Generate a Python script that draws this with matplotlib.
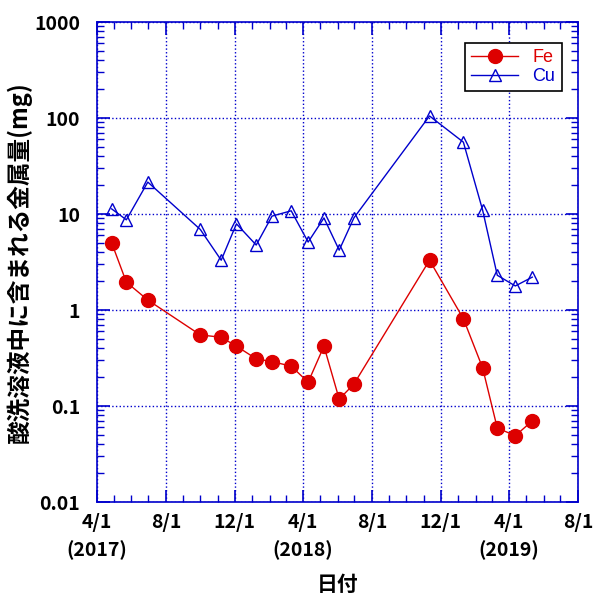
import numpy as np
import matplotlib
matplotlib.use("Agg")
import matplotlib.pyplot as plt
import matplotlib.dates as mdates
from matplotlib.ticker import LogLocator, FixedLocator, NullFormatter

plt.rcParams['font.family'] = ['Noto Sans CJK JP', 'DejaVu Sans']

# sampling dates and metal amounts (mg)
dates = ['2017-04-27', '2017-05-23', '2017-06-30', '2017-10-01', '2017-11-07',
         '2017-12-04', '2018-01-08', '2018-02-05', '2018-03-11', '2018-04-10',
         '2018-05-08', '2018-06-04', '2018-06-30', '2018-11-11', '2019-01-10',
         '2019-02-13', '2019-03-11', '2019-04-12', '2019-05-12']
fe = [5.0, 1.95, 1.27, 0.55, 0.52, 0.42, 0.31, 0.29, 0.26, 0.177,
      0.42, 0.118, 0.169, 3.3, 0.81, 0.25, 0.059, 0.049, 0.07]
cu = [11.3, 8.7, 21.5, 6.9, 3.3, 7.9, 4.75, 9.5, 10.8, 5.1,
      9.1, 4.2, 9.1, 105, 56, 11, 2.3, 1.78, 2.2]

tick_dates = ['2017-04-01', '2017-08-01', '2017-12-01', '2018-04-01',
              '2018-08-01', '2018-12-01', '2019-04-01', '2019-08-01']
tick_labels = ['4/1\n(2017)', '8/1', '12/1', '4/1\n(2018)', '8/1', '12/1', '4/1\n(2019)', '8/1']

x = mdates.datestr2num(dates)
xt = mdates.datestr2num(tick_dates)

fig = plt.figure(figsize=(5.94, 5.94), dpi=100)
ax = fig.add_axes([97/594, 1 - 502/594, 481/594, 480/594])

blue = '#0000cc'
red = '#dd0000'

ax.plot(x, fe, '-o', color=red, lw=1, markersize=10, label='Fe', zorder=3)
ax.plot(x, cu, '-^', color=blue, lw=1, markersize=9, markerfacecolor='none',
        markeredgewidth=1, label='Cu', zorder=3)

ax.set_yscale('log')
ax.set_ylim(0.01, 1000)
ax.set_xlim(xt[0], xt[-1])

ax.xaxis.set_major_locator(FixedLocator(xt))
ax.set_xticklabels(tick_labels, linespacing=1.5)
minor = mdates.datestr2num(['2017-%02d-01' % m for m in range(5, 13)] +
                           ['2018-%02d-01' % m for m in range(1, 13)] +
                           ['2019-%02d-01' % m for m in range(1, 8)])
ax.xaxis.set_minor_locator(FixedLocator(minor))

ax.yaxis.set_major_locator(LogLocator(base=10, numticks=10))
ax.yaxis.set_minor_locator(LogLocator(base=10, subs=np.arange(2, 10), numticks=20))
ax.yaxis.set_minor_formatter(NullFormatter())
ax.set_yticks([0.01, 0.1, 1, 10, 100, 1000])
ax.set_yticklabels(['0.01', '0.1', '1', '10', '100', '1000'])

ax.grid(True, which='major', color=blue, linestyle=':', lw=1)
for s in ax.spines.values():
    s.set_color(blue)
    s.set_linewidth(1.2)
ax.tick_params(which='both', direction='in', top=True, right=True, color=blue)
ax.tick_params(which='major', length=9, width=1.2, labelsize=14)
ax.tick_params(axis='x', which='major', pad=8)
ax.tick_params(axis='y', which='major', pad=12)
ax.tick_params(which='minor', length=5, width=1)
for lab in ax.get_xticklabels() + ax.get_yticklabels():
    lab.set_fontweight('bold')

ax.set_xlabel('日付', fontsize=15, fontweight='bold', labelpad=10)
ax.set_ylabel('酸洗溶液中に含まれる金属量(mg)', fontsize=17, fontweight='bold', labelpad=2)

leg = ax.legend(loc='upper right', bbox_to_anchor=(0.985, 0.975), fancybox=False,
                edgecolor='black', framealpha=1, handlelength=2.6,
                borderpad=0.35, labelspacing=0.1,
                prop={'family': 'Liberation Sans', 'size': 13})
leg.get_frame().set_linewidth(1.2)
for t, c in zip(leg.get_texts(), [red, blue]):
    t.set_color(c)

fig.savefig('out.png', dpi=100)
